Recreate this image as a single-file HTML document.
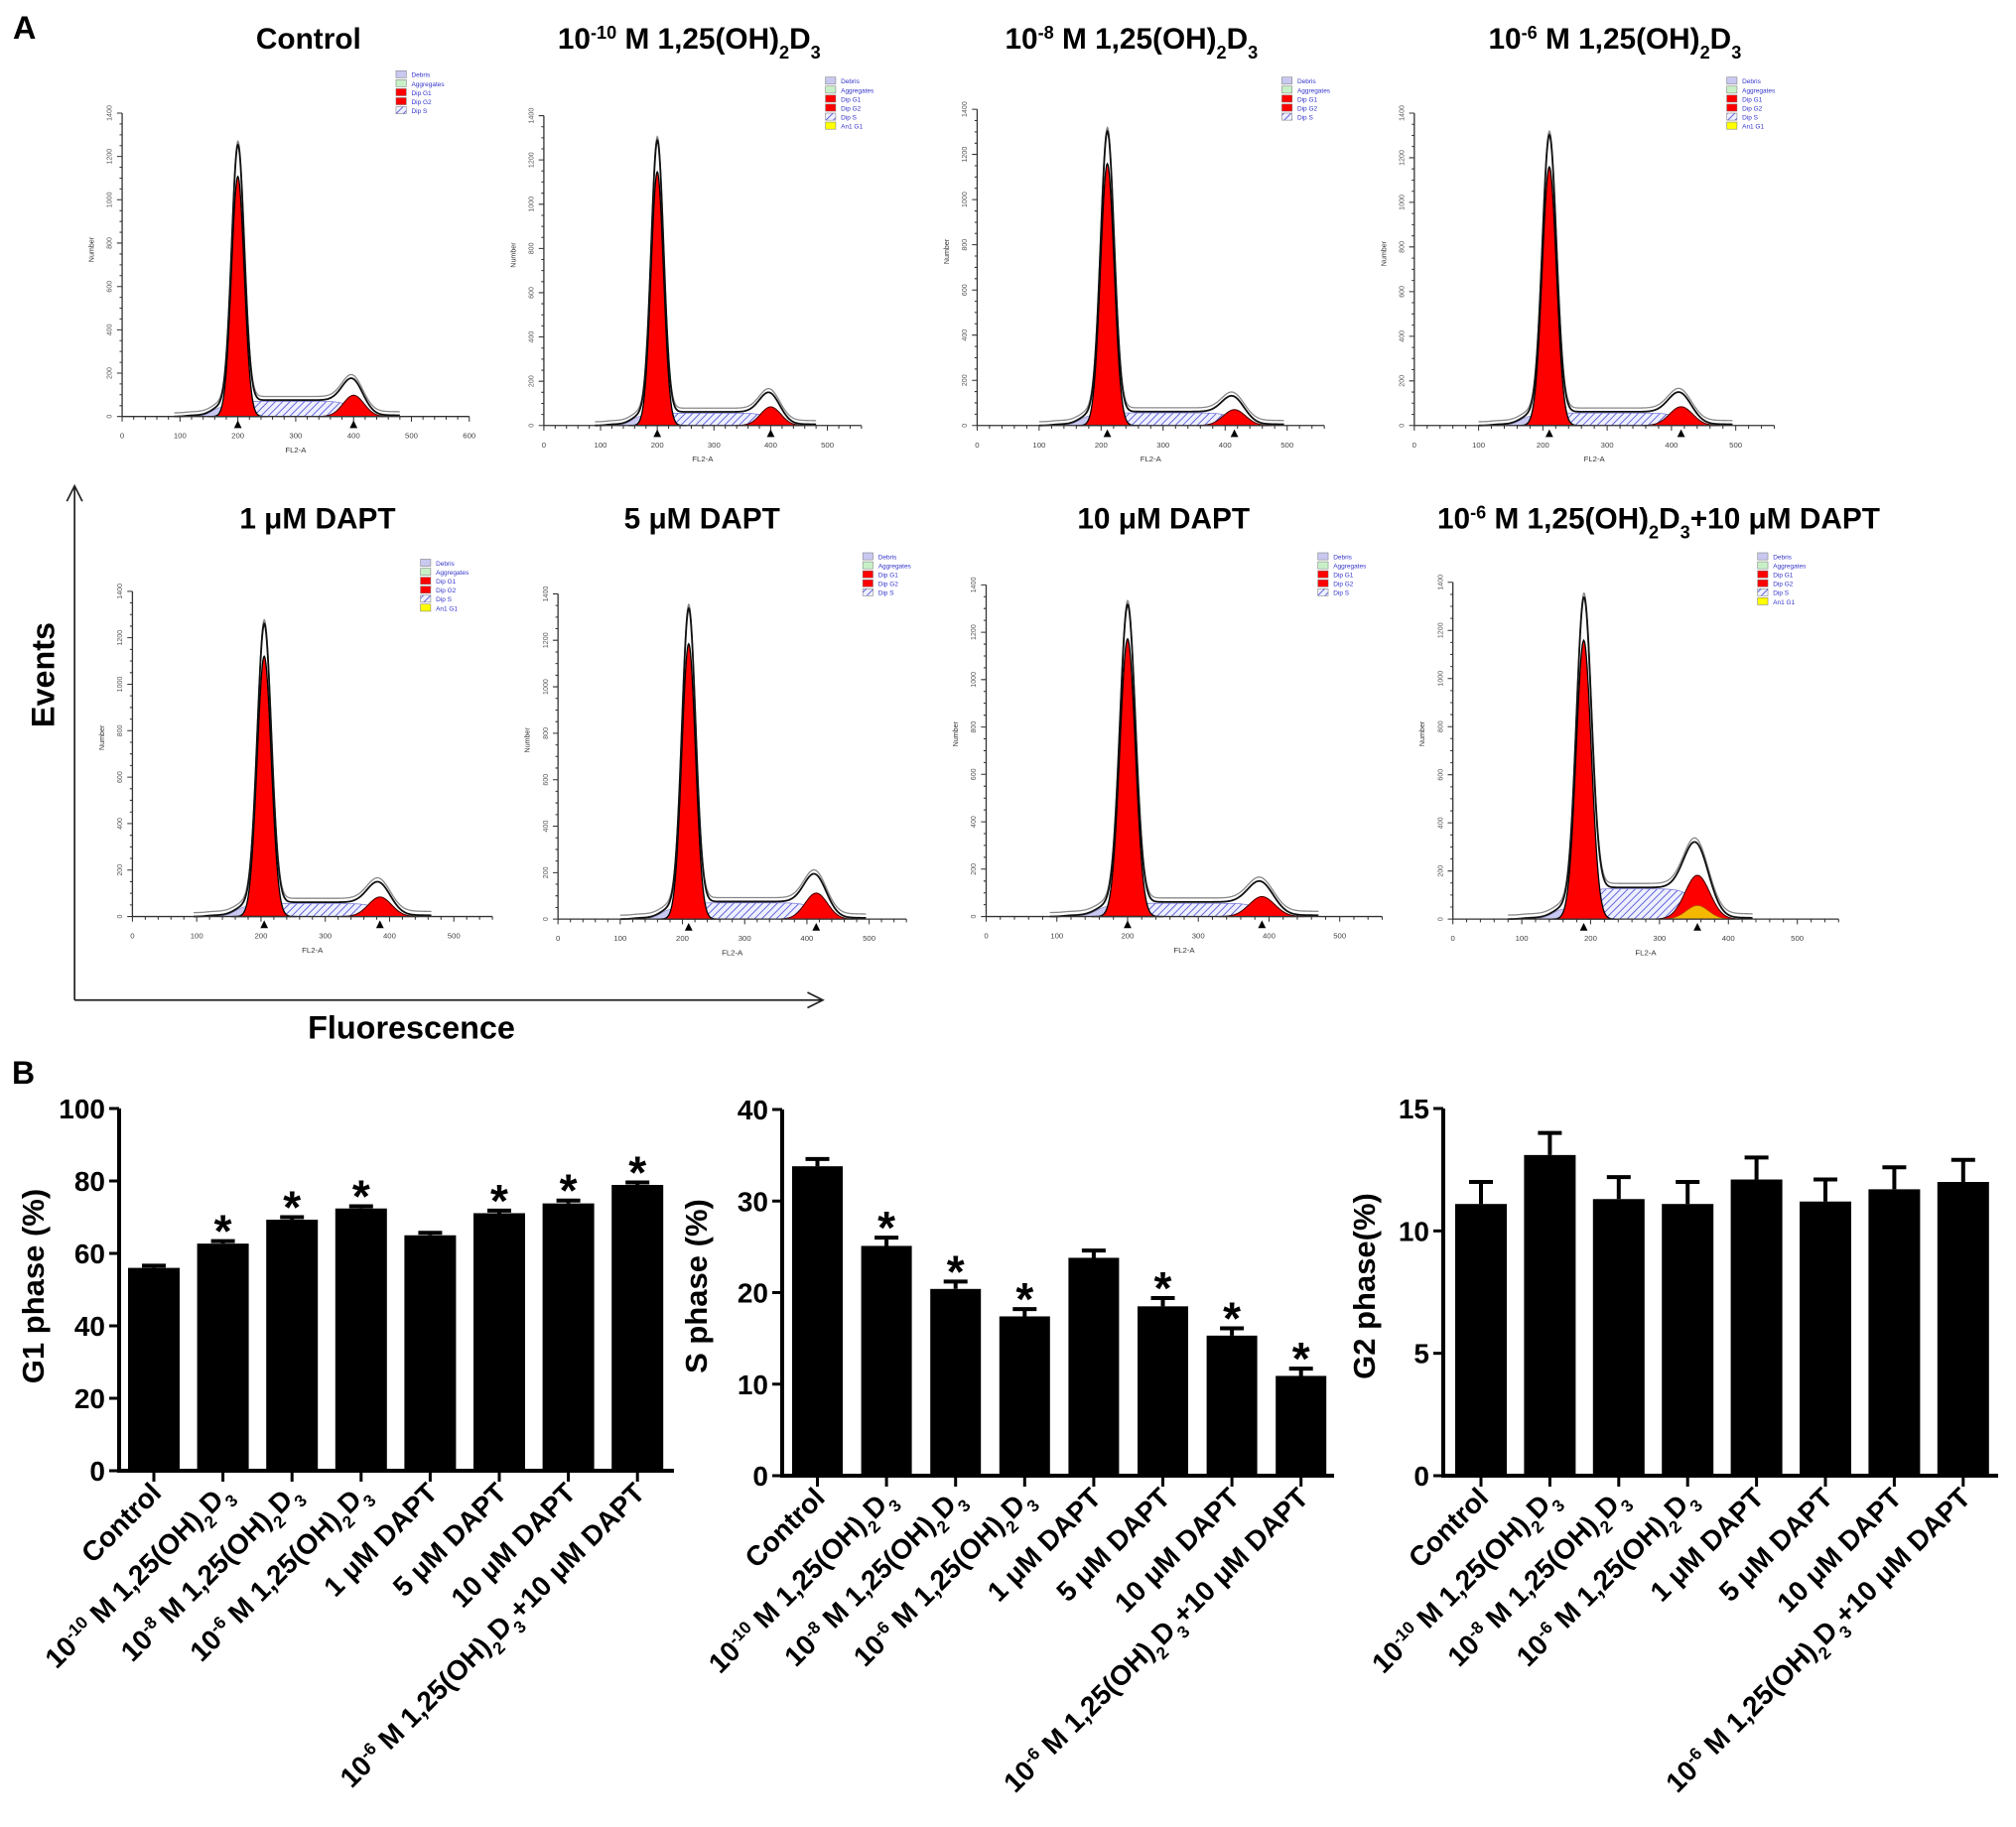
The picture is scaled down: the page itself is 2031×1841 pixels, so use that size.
<!DOCTYPE html>
<html><head><meta charset="utf-8">
<style>
html,body{margin:0;padding:0;background:#fff;}
svg{display:block;}
text{font-family:"Liberation Sans",Arial,sans-serif;}
</style></head>
<body>
<svg id="fig" width="2031" height="1841" viewBox="0 0 2031 1841" xmlns="http://www.w3.org/2000/svg">
<defs>
<pattern id="hatch" patternUnits="userSpaceOnUse" width="4" height="4" patternTransform="rotate(45)">
<rect width="4" height="4" fill="#eef0ff"/>
<line x1="0" y1="0" x2="0" y2="4" stroke="#5a5ad8" stroke-width="1.4"/>
</pattern>
</defs>
<g id="panelA" transform="scale(1.2953)">
<text x="10" y="30" font-size="25" font-weight="bold">A</text>
<text x="240" y="38" font-size="23" font-weight="bold" text-anchor="middle">Control</text>
<text x="536" y="38" font-size="23" font-weight="bold" text-anchor="middle">10<tspan font-size="14" baseline-shift="super">-10</tspan> M 1,25(OH)<tspan font-size="14" baseline-shift="sub">2</tspan>D<tspan font-size="14" baseline-shift="sub">3</tspan></text>
<text x="880" y="38" font-size="23" font-weight="bold" text-anchor="middle">10<tspan font-size="14" baseline-shift="super">-8</tspan> M 1,25(OH)<tspan font-size="14" baseline-shift="sub">2</tspan>D<tspan font-size="14" baseline-shift="sub">3</tspan></text>
<text x="1256" y="38" font-size="23" font-weight="bold" text-anchor="middle">10<tspan font-size="14" baseline-shift="super">-6</tspan> M 1,25(OH)<tspan font-size="14" baseline-shift="sub">2</tspan>D<tspan font-size="14" baseline-shift="sub">3</tspan></text>
<text x="247" y="411" font-size="23" font-weight="bold" text-anchor="middle">1 μM DAPT</text>
<text x="546" y="411" font-size="23" font-weight="bold" text-anchor="middle">5 μM DAPT</text>
<text x="905" y="411" font-size="23" font-weight="bold" text-anchor="middle">10 μM DAPT</text>
<text x="1290" y="411" font-size="23" font-weight="bold" text-anchor="middle">10<tspan font-size="14" baseline-shift="super">-6</tspan> M 1,25(OH)<tspan font-size="14" baseline-shift="sub">2</tspan>D<tspan font-size="14" baseline-shift="sub">3</tspan>+10 μM DAPT</text>
<path d="M58,778 L58,378 M52,390 L58,378 L64,390 M58,778 L640,778 M628,772 L640,778 L628,784" fill="none" stroke="#222" stroke-width="1.3"/>
<text transform="translate(42,525) rotate(-90)" font-size="25" font-weight="bold" text-anchor="middle">Events</text>
<text x="320" y="808" font-size="25" font-weight="bold" text-anchor="middle">Fluorescence</text>
<g id="hists"></g>
</g>
<text x="12" y="1092" font-size="32" font-weight="bold">B</text>
<g id="bars"></g>
</svg>
<script>
// ---- Panel A histogram data (FL2 units / fraction of y-axis) ----
const histXMax=[600,560,560,560,560,560,560,560];
const histG1Pos=[200,200,210,210,205,210,200,190];
const histG1Height=[0.86,0.89,0.9,0.9,0.87,0.92,0.91,0.9];
const histG2Pos=[400,400,415,415,385,415,390,355];
const histG2Height=[0.07,0.06,0.05,0.06,0.06,0.08,0.06,0.13];
const histSLevel=[0.05,0.04,0.04,0.04,0.04,0.05,0.04,0.09];
const histHasAn=[false,true,false,true,true,false,false,true];
const histXTicks=[[0,100,200,300,400,500,600],[0,100,200,300,400,500],[0,100,200,300,400,500],[0,100,200,300,400,500],[0,100,200,300,400,500],[0,100,200,300,400,500],[0,100,200,300,400,500],[0,100,200,300,400,500]];

// ---- Panel B bar chart data ----
const categories=["Control","10^{-10} M 1,25(OH)_{2}D_{3}","10^{-8} M 1,25(OH)_{2}D_{3}","10^{-6} M 1,25(OH)_{2}D_{3}","1 μM DAPT","5 μM DAPT","10 μM DAPT","10^{-6} M 1,25(OH)_{2}D_{3}+10 μM DAPT"];
const g1Values=[56,62.7,69.3,72.4,65,71.1,73.8,78.9];
const g1Errors=[0.6,0.7,0.7,0.6,0.7,0.7,0.8,0.7];
const g1Sig=[false,true,true,true,false,true,true,true];
const g1Ticks=[0,20,40,60,80,100];
const sValues=[33.8,25.1,20.4,17.4,23.8,18.5,15.3,10.9];
const sErrors=[0.8,0.9,0.8,0.8,0.8,0.9,0.8,0.8];
const sSig=[false,true,true,true,false,true,true,true];
const sTicks=[0,10,20,30,40];
const g2Values=[11.1,13.1,11.3,11.1,12.1,11.2,11.7,12.0];
const g2Errors=[0.9,0.9,0.9,0.9,0.9,0.9,0.9,0.9];
const g2Sig=[false,false,false,false,false,false,false,false];
const g2Ticks=[0,5,10,15];

const NS="http://www.w3.org/2000/svg";
function mk(tag,attrs,parent){const e=document.createElementNS(NS,tag);for(const k in attrs)e.setAttribute(k,attrs[k]);if(parent)parent.appendChild(e);return e;}

// ---- histograms (display coords, scaled group) ----
const hLayout=[
 {ax:95,base:324,top:88,right:365,lx:308,ly:60},
 {ax:423,base:331,top:90,right:670,lx:642,ly:65},
 {ax:760,base:331,top:85,right:1030,lx:997,ly:65},
 {ax:1100,base:331,top:88,right:1380,lx:1343,ly:65},
 {ax:103,base:713,top:460,right:383,lx:327,ly:440},
 {ax:434,base:715,top:462,right:705,lx:671,ly:435},
 {ax:767,base:713,top:455,right:1075,lx:1025,ly:435},
 {ax:1130,base:715,top:453,right:1430,lx:1367,ly:435}
];
const hg=document.getElementById('hists');
const sig=z=>1/(1+Math.exp(-z));
for(let i=0;i<8;i++){
 const L=hLayout[i];
 const g=mk('g',{},hg);
 
 
 const xMax=histXMax[i];
 const sx=v=>L.ax+(v/xMax)*(L.right-L.ax);
 const H=L.base-L.top;
 const sy=f=>L.base-f*H;
 const p1=histG1Pos[i],h1=histG1Height[i],p2=histG2Pos[i],h2=histG2Height[i],sl=histSLevel[i];
 const G1=v=>h1*0.92*Math.exp(-Math.pow(v-p1,2)/(2*11*11));
 const G2=v=>h2*Math.exp(-Math.pow(v-p2,2)/(2*18*18));
 const Sp=v=>sl*sig((v-p1)/6)*sig((p2-v)/10);
 const Db=v=>0.03*Math.exp(-Math.pow(v-(p1-28),2)/(2*16*16));
 const tot=v=>G1(v)/0.92+G2(v)*1.35+Sp(v)+Db(v)+0.004*sig((v-(p1-90))/5)*sig((p2+90-v)/5);
 function area(fn,a,b){let d=`M${sx(a)},${L.base}`;for(let v=a;v<=b;v+=1)d+=` L${sx(v).toFixed(2)},${sy(fn(v)).toFixed(2)}`;return d+` L${sx(b)},${L.base}Z`;}
 function line(fn,a,b){let d='';for(let v=a;v<=b;v+=1)d+=(d?' L':'M')+sx(v).toFixed(2)+','+sy(fn(v)).toFixed(2);return d;}
 let e;
 e=mk('path',{d:area(Sp,p1-40,p2+40),fill:'url(#hatch)',stroke:'#6a6ad0','stroke-width':0.5},g);
 
 e=mk('path',{d:area(Db,p1-90,p1+30),fill:'#c8c8f0',stroke:'#8888cc','stroke-width':0.5},g);
 
 e=mk('path',{d:area(G1,p1-50,p1+50),fill:'#f00',stroke:'#000','stroke-width':1},g);
 
 e=mk('path',{d:area(G2,p2-60,p2+60),fill:'#f00',stroke:'#400','stroke-width':0.8},g);
 
 if(i===7){
  e=mk('path',{d:area(v=>0.04*Math.exp(-Math.pow(v-p2,2)/(2*16*16)),p2-45,p2+45),fill:'#f5b800',stroke:'#a60','stroke-width':0.5},g);
  
 }
 e=mk('path',{d:line(v=>tot(v)+0.012,p1-110,p2+80),fill:'none',stroke:'#888','stroke-width':1},g);
 
 e=mk('path',{d:line(tot,p1-110,p2+80),fill:'none',stroke:'#111','stroke-width':1.4},g);
 
 e=mk('path',{d:`M${L.ax},${L.top} L${L.ax},${L.base} L${L.right},${L.base}`,fill:'none',stroke:'#333','stroke-width':1},g);
 
 let td='';
 for(let k=0;k<=28;k++){const y=L.base-k*H/28;const w=k%4===0?4:2;td+=`M${L.ax-w},${y.toFixed(1)} L${L.ax},${y.toFixed(1)} `;}
 for(let v=0;v<=xMax;v+=20){const x=sx(v);const w=v%100===0?4:2.5;td+=`M${x.toFixed(1)},${L.base} L${x.toFixed(1)},${L.base+w} `;}
 mk('path',{d:td,stroke:'#333','stroke-width':0.8,fill:'none'},g);
 histXTicks[i].forEach(v=>{
  const t=mk('text',{x:sx(v),y:L.base+17,'font-size':6,'text-anchor':'middle',fill:'#444'},g);
  
  t.textContent=String(v);
 });
 for(let k=0;k<=7;k++){
  const y=L.base-k*H/7;
  const t=mk('text',{transform:`translate(${L.ax-8},${y}) rotate(-90)`,'font-size':5.5,'text-anchor':'middle',fill:'#555'},g);
  
  t.textContent=String(k*200);
 }
 let t=mk('text',{x:(L.ax+L.right)/2,y:L.base+28,'font-size':6,'text-anchor':'middle',fill:'#333'},g);
 
 t.textContent='FL2-A';
 t=mk('text',{transform:`translate(${L.ax-22},${L.top+H*0.45}) rotate(-90)`,'font-size':5.5,'text-anchor':'middle',fill:'#333'},g);
 
 t.textContent='Number';
 [p1,p2].forEach(v=>{
  const m=mk('path',{d:`M${sx(v)-3},${L.base+9} L${sx(v)},${L.base+3} L${sx(v)+3},${L.base+9}Z`,fill:'#000'},g);
  
 });
 const leg=mk('g',{},g);
 
 const names=['Debris','Aggregates','Dip G1','Dip G2','Dip S'];const cols=['#c8c8f0','#c8f0c8','#f00','#f00','url(#hatch)'];
 if(histHasAn[i]){names.push('An1 G1');cols.push('#ff0');}
 names.forEach((n,k)=>{
  const y=L.ly+k*7;
  mk('rect',{x:L.lx,y:y-5,width:8,height:5.5,fill:cols[k],stroke:'#777','stroke-width':0.4},leg);
  const tt=mk('text',{x:L.lx+12,y:y,'font-size':5,fill:'#33c'},leg);
  
  tt.textContent=n;
 });
}

// ---- bar charts ----
function fmtText(el,str,fs){
 const re=/(\^\{[^}]*\}|_\{[^}]*\})/;
 str.split(re).forEach(part=>{
  if(!part)return;
  const ts=mk('tspan',{},el);
  if(part[0]==='^'){ts.setAttribute('font-size',fs*0.62);ts.setAttribute('baseline-shift','super');ts.textContent=part.slice(2,-1);}
  else if(part[0]==='_'){ts.setAttribute('font-size',fs*0.62);ts.setAttribute('baseline-shift','sub');ts.textContent=part.slice(2,-1);}
  else ts.textContent=part;
 });
}
const bg=document.getElementById('bars');
function barChart(cfg,values,errors,sigs,ticks){
 const g=mk('g',{},bg);
 
 
 const yS=v=>cfg.y0-(v/cfg.max)*(cfg.y0-cfg.yTop);
 const xC=i=>cfg.firstLeft+i*cfg.pitch+cfg.barW/2;
 values.forEach((v,i)=>{
  const r=mk('rect',{x:xC(i)-cfg.barW/2,y:yS(v),width:cfg.barW,height:cfg.y0-yS(v),fill:'#000'},g);
  
  
  const top=yS(v+errors[i]);
  const eb=mk('path',{d:`M${xC(i)},${yS(v)} L${xC(i)},${top} M${xC(i)-12},${top} L${xC(i)+12},${top}`,stroke:'#000','stroke-width':4,fill:'none'},g);
  
  
  if(sigs[i]){
   const a=mk('text',{x:xC(i),y:top+6,'font-size':46,'font-weight':'bold','text-anchor':'middle'},g);
   
   
   a.textContent='*';
  }
  const tk=mk('line',{x1:xC(i),y1:cfg.y0,x2:xC(i),y2:cfg.y0+11,stroke:'#000','stroke-width':3},g);
  
  
  const lb=mk('text',{transform:`translate(${xC(i)+9},${cfg.y0+24}) rotate(-45)`,'font-size':28,'font-weight':'bold','text-anchor':'end'},g);
  
  
  fmtText(lb,categories[i],28);
 });
 const ax=mk('path',{d:`M${cfg.axX},${cfg.yTop} L${cfg.axX},${cfg.y0} L${cfg.axEnd},${cfg.y0}`,stroke:'#000','stroke-width':4,fill:'none'},g);
 
 
 ticks.forEach(v=>{
  const l=mk('line',{x1:cfg.axX-10,y1:yS(v),x2:cfg.axX,y2:yS(v),stroke:'#000','stroke-width':3},g);
  
  
  const t=mk('text',{x:cfg.axX-14,y:yS(v)+10,'font-size':28,'font-weight':'bold','text-anchor':'end'},g);
  
  
  t.textContent=String(v);
 });
 const tt=mk('text',{transform:`translate(${cfg.titleX},${cfg.titleY}) rotate(-90)`,'font-size':31,'font-weight':'bold','text-anchor':'middle'},g);
 
 
 tt.textContent=cfg.title;
}
barChart({name:'g1-phase-chart',axX:120,y0:1482,yTop:1117,axEnd:679,firstLeft:129,pitch:69.6,barW:52,max:100,title:'G1 phase (%)',titleX:44,titleY:1296},g1Values,g1Errors,g1Sig,g1Ticks);
barChart({name:'s-phase-chart',axX:788,y0:1487,yTop:1118,axEnd:1344,firstLeft:798,pitch:69.6,barW:51,max:40,title:'S phase (%)',titleX:712,titleY:1296},sValues,sErrors,sSig,sTicks);
barChart({name:'g2-phase-chart',axX:1454,y0:1487,yTop:1117,axEnd:2013,firstLeft:1466,pitch:69.4,barW:52,max:15,title:'G2 phase(%)',titleX:1385,titleY:1296},g2Values,g2Errors,g2Sig,g2Ticks);
</script>
</body></html>
